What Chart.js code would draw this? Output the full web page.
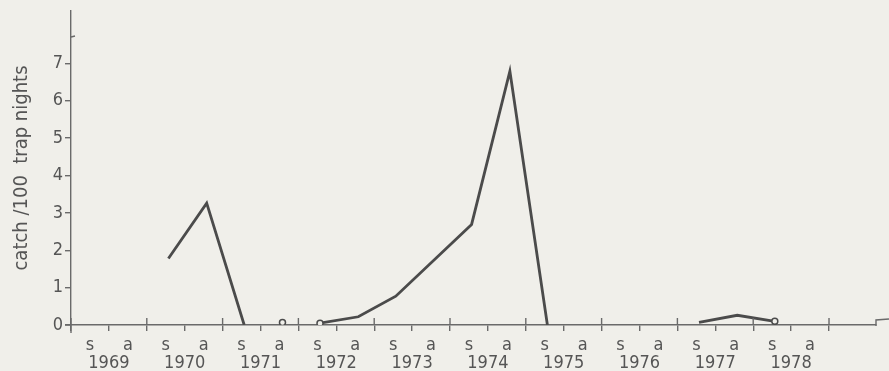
<!DOCTYPE html>
<html>
<head>
<meta charset="utf-8">
<script src="https://cdn.jsdelivr.net/npm/chart.js@4"></script>
<style>
  html, body { margin: 0; padding: 0; background: #f0efea; }
  #wrap { width: 889px; height: 371px; }
</style>
</head>
<body>
<div id="wrap"><canvas id="catch-chart" width="889" height="371"></canvas></div>
<script>
// years on the axis, each split into a summer (s) and autumn (a) sample
var years = [1969, 1970, 1971, 1972, 1973, 1974, 1975, 1976, 1977, 1978];
var seasons = ['s', 'a'];
// where in the year each season's sample falls (fraction of a year)
var sampleTime = { s: 0.285, a: 0.79 };

// catch per 100 trap nights, one array per unbroken run
var run1970When = ['1970 s', '1970 a', '1971 s'];
var run1970Catch = [1.78, 3.26, 0];

var run1972When = ['1972 s', '1972 a', '1973 s', '1974 s', '1974 a', '1975 s'];
var run1972Catch = [0.05, 0.22, 0.77, 2.69, 6.79, 0];

var run1977When = ['1977 s', '1977 a', '1978 s'];
var run1977Catch = [0.07, 0.26, 0.1];

// lone sample with nothing caught
var emptyWhen = ['1971 a'];
var emptyCatch = [0.07];

var yTicks = [0, 1, 2, 3, 4, 5, 6, 7];

var ink = '#4b4b4b';
var axisInk = '#6a6a6a';
var paper = '#f0efea';
var family = "'Liberation Sans Narrow', 'DejaVu Sans Condensed', 'Liberation Sans', sans-serif";
var labelFont = { family: family, size: 18, lineHeight: '18px' };

function when2x(w) {
  var parts = w.split(' ');
  return years.indexOf(+parts[0]) + sampleTime[parts[1]];
}

function points(when, vals) {
  return when.map(function (w, i) { return { x: when2x(w), y: vals[i] }; });
}

// ticks every quarter year: year edges, s, mid-year, a
var xTicks = [];
years.forEach(function (yr, i) {
  xTicks.push(i, i + 0.25, i + 0.5, i + 0.75);
});
xTicks.push(years.length);

function xLabel(v) {
  var i = Math.floor(v);
  var f = v - i;
  if (i >= years.length) return '';
  if (Math.abs(f - 0.25) < 1e-6) return seasons[0];
  if (Math.abs(f - 0.75) < 1e-6) return seasons[1];
  if (Math.abs(f - 0.5) < 1e-6) return ['', String(years[i])];
  return '';
}

var paperPlugin = {
  id: 'paper',
  beforeDraw: function (chart) {
    var c = chart.ctx;
    c.save();
    c.fillStyle = paper;
    c.fillRect(0, 0, chart.width, chart.height);
    c.restore();
  }
};

// the bits of the hand-drawn axes Chart.js has no option for
var axisMarks = {
  id: 'axisMarks',
  afterDraw: function (chart) {
    var c = chart.ctx;
    var xs = chart.scales.x;
    var ys = chart.scales.y;
    var y0 = ys.getPixelForValue(0);
    var left = chart.chartArea.left;
    var right = chart.chartArea.right;
    var top = chart.chartArea.top;
    c.save();
    c.strokeStyle = axisInk;
    c.lineWidth = 1.4;
    c.beginPath();
    // year edges cross the axis
    for (var i = 0; i <= years.length; i++) {
      var px = xs.getPixelForValue(i);
      c.moveTo(px, y0 - 7);
      c.lineTo(px, y0);
    }
    // y axis runs a little under the x axis
    c.moveTo(left, y0);
    c.lineTo(left, y0 + 8);
    // x axis starts a little left of the y axis
    c.moveTo(left - 6, y0);
    c.lineTo(left, y0);
    // small hook at the top of the y axis
    c.moveTo(left, top + 26);
    c.lineTo(left + 4, top + 25);
    // end mark of the x axis
    c.moveTo(right, y0 + 1);
    c.lineTo(right, y0 - 5);
    c.lineTo(right + 13, y0 - 6);
    c.stroke();
    c.restore();
  }
};

function runDataset(when, vals, radii) {
  return {
    data: points(when, vals),
    borderColor: ink,
    borderWidth: 2.8,
    backgroundColor: paper,
    pointBorderColor: ink,
    pointBackgroundColor: paper,
    pointBorderWidth: 1.5,
    pointRadius: radii,
    pointHoverRadius: radii,
    tension: 0,
    fill: false
  };
}

var config = {
  type: 'line',
  plugins: [paperPlugin, axisMarks],
  data: {
    datasets: [
      runDataset(run1970When, run1970Catch, 0),
      runDataset(run1972When, run1972Catch, [3, 0, 0, 0, 0, 0]),
      runDataset(run1977When, run1977Catch, [0, 0, 3]),
      Object.assign(runDataset(emptyWhen, emptyCatch, 3), { showLine: false })
    ]
  },
  options: {
    responsive: false,
    animation: false,
    layout: {
      padding: { top: 7, right: 13, left: 0, bottom: 0 }
    },
    plugins: {
      legend: { display: false },
      tooltip: { enabled: false }
    },
    scales: {
      x: {
        type: 'linear',
        min: 0,
        max: 10.62,
        afterBuildTicks: function (axis) {
          axis.ticks = xTicks.map(function (v) { return { value: v }; });
        },
        afterFit: function (scale) { scale.height = 46; },
        border: { display: true, color: axisInk, width: 1.4 },
        grid: {
          drawOnChartArea: false,
          drawTicks: true,
          tickLength: 6,
          lineWidth: 1.4,
          color: function (ctx) {
            var v = ctx.tick ? ctx.tick.value : 0;
            var f = v - Math.floor(v);
            return (f === 0 || f === 0.5) ? axisInk : 'rgba(0,0,0,0)';
          }
        },
        ticks: {
          autoSkip: false,
          maxRotation: 0,
          padding: 5,
          color: '#555',
          font: labelFont,
          callback: function (v) { return xLabel(v); }
        }
      },
      y: {
        min: 0,
        max: 8.4,
        afterBuildTicks: function (axis) {
          axis.ticks = yTicks.map(function (v) { return { value: v }; });
        },
        afterFit: function (scale) { scale.width = 71; },
        border: { display: true, color: axisInk, width: 1.4 },
        grid: {
          drawOnChartArea: false,
          drawTicks: true,
          tickLength: 6,
          lineWidth: 1.4,
          color: axisInk
        },
        ticks: {
          padding: 2,
          color: '#555',
          font: labelFont
        },
        title: {
          display: true,
          text: 'catch /100  trap nights',
          color: '#555',
          font: { family: family, size: 20 },
          padding: { top: 10, bottom: 0 }
        }
      }
    }
  }
};

new Chart(document.getElementById('catch-chart').getContext('2d'), config);
</script>
</body>
</html>
